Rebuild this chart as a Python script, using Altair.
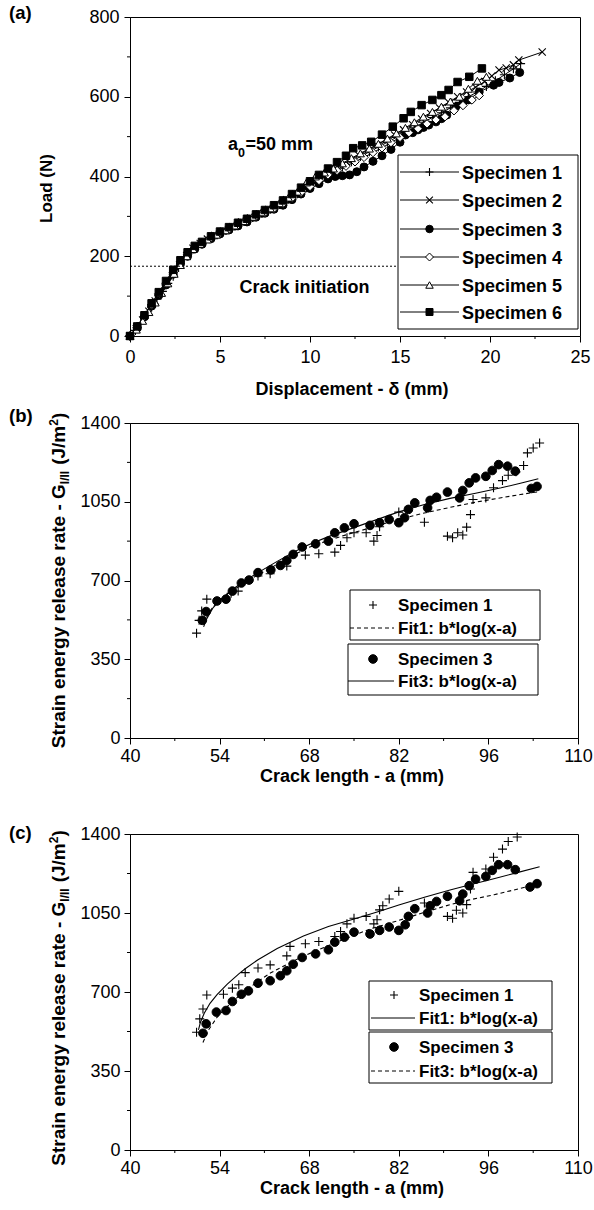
import altair as alt
import pandas as pd

FONT = "Liberation Sans"

# ---------------- panel (a): load vs displacement ----------------
s1_x = [0, 0.3, 0.6, 0.9, 1.2, 1.5, 1.8, 2.1, 2.4, 2.7, 3.0, 3.3, 3.6, 4.0, 4.4, 4.8, 5.3, 5.8, 6.3, 6.8,
        7.3, 7.8, 8.3, 8.8, 9.3, 9.8, 10.3, 10.8, 11.3, 11.8, 12.3, 12.8, 13.3, 13.8, 14.3, 14.8, 15.3, 15.8,
        16.3, 16.8, 17.3, 17.8, 18.3, 18.8, 19.3, 19.8, 20.3, 20.8, 21.3, 21.7]
s1_y = [0, 14, 34, 52, 72, 92, 112, 132, 150, 172, 192, 208, 222, 234, 244, 254, 265, 276, 288, 297,
        308, 318, 330, 343, 357, 372, 386, 400, 412, 425, 437, 450, 462, 474, 486, 498, 510, 522,
        536, 548, 560, 572, 586, 600, 612, 626, 640, 655, 670, 683]

s2_x = [0, 0.35, 0.7, 1.05, 1.4, 1.75, 2.1, 2.45, 2.8, 3.15, 3.5, 3.9, 4.3, 4.7, 5.2, 5.7, 6.2, 6.7, 7.2, 7.7,
        8.2, 8.7, 9.2, 9.7, 10.2, 10.7, 11.2, 11.7, 12.2, 12.7, 13.2, 13.7, 14.2, 14.7, 15.2, 15.7, 16.2, 16.7,
        17.2, 17.7, 18.2, 18.7, 19.2, 19.7, 20.1, 20.5, 20.9, 21.3, 21.6, 22.9]
s2_y = [0, 18, 40, 62, 88, 110, 134, 158, 180, 202, 220, 232, 243, 252, 263, 274, 286, 296, 306, 317,
        328, 342, 356, 372, 388, 403, 416, 428, 441, 454, 466, 479, 491, 504, 517, 530, 544, 558,
        572, 586, 600, 612, 624, 638, 652, 667, 672, 680, 692, 712]

s3_x = [0, 0.4, 0.8, 1.2, 1.6, 2.0, 2.4, 2.8, 3.2, 3.6, 4.0, 4.5, 5.0, 5.5, 6.0, 6.5, 7.0, 7.5, 8.0, 8.5,
        9.0, 9.5, 10.0, 10.5, 11.0, 11.4, 11.8, 12.2, 12.6, 13.0, 13.5, 14.0, 14.5, 15.0, 15.3, 15.7, 16.0, 16.3,
        16.6, 17.0, 17.3, 17.6, 18.1, 18.5, 18.8, 19.4, 20.2, 20.5, 21.1, 21.65]
s3_y = [0, 20, 48, 75, 102, 128, 155, 180, 200, 218, 230, 244, 256, 266, 276, 286, 298, 308, 318, 328,
        342, 356, 370, 382, 394, 400, 402, 404, 412, 424, 438, 452, 468, 486, 504, 510, 517, 523,
        529, 537, 545, 554, 575, 584, 592, 612, 629, 636, 647, 661]

s4_x = [0, 0.4, 0.8, 1.2, 1.6, 2.0, 2.4, 2.8, 3.2, 3.6, 4.0, 4.5, 5.0, 5.5, 6.0, 6.5, 7.0, 7.5, 8.0, 8.5,
        9.0, 9.5, 10.0, 10.5, 11.0, 11.5, 12.0, 12.5, 13.0, 13.5, 14.0, 14.5, 15.0, 15.5, 16.0, 16.5, 17.0, 17.5,
        18.0, 18.5, 19.0, 19.4]
s4_y = [0, 22, 50, 78, 106, 132, 160, 186, 205, 222, 233, 246, 258, 268, 279, 289, 300, 310, 320, 332,
        346, 360, 375, 390, 404, 415, 426, 437, 448, 460, 472, 485, 498, 510, 520, 532, 542, 550,
        565, 578, 592, 603]

s5_x = [0, 0.35, 0.7, 1.05, 1.4, 1.75, 2.1, 2.45, 2.8, 3.15, 3.5, 3.9, 4.3, 4.8, 5.3, 5.8, 6.3, 6.8, 7.3, 7.8,
        8.3, 8.8, 9.3, 9.8, 10.3, 10.8, 11.3, 11.8, 12.3, 12.8, 13.3, 13.8, 14.3, 14.8, 15.3, 15.8, 16.3, 16.8,
        17.3, 17.8, 18.3, 18.8, 19.3, 19.8]
s5_y = [0, 16, 38, 60, 84, 108, 132, 156, 178, 200, 218, 231, 242, 254, 265, 277, 288, 299, 310, 320,
        333, 347, 362, 385, 400, 410, 420, 433, 446, 458, 470, 482, 495, 508, 522, 536, 550, 562,
        575, 588, 600, 620, 640, 650]

s6_x = [0, 0.4, 0.8, 1.2, 1.6, 2.0, 2.4, 2.8, 3.2, 3.6, 4.0, 4.5, 5.0, 5.5, 6.0, 6.5, 7.0, 7.5, 8.0, 8.5,
        9.0, 9.5, 10.0, 10.5, 11.0, 11.5, 12.0, 12.4, 12.9, 13.4, 14.0, 14.6, 15.2, 15.6, 16.2, 16.8, 17.3, 17.7,
        18.2, 18.85, 19.55]
s6_y = [0, 24, 52, 82, 110, 138, 166, 190, 210, 226, 236, 250, 262, 273, 284, 294, 305, 316, 328, 340,
        356, 372, 388, 404, 420, 436, 452, 471, 478, 487, 505, 525, 546, 562, 579, 592, 604, 617,
        637, 650, 671]

crack_init_load = [175]
a_xticks = [0, 5, 10, 15, 20, 25]
a_xminor = [2.5, 7.5, 12.5, 17.5, 22.5]
a_yticks = [0, 200, 400, 600, 800]
a_yminor = [100, 300, 500, 700]
a_names = ["Specimen 1", "Specimen 2", "Specimen 3", "Specimen 4", "Specimen 5", "Specimen 6"]

# ---------------- panel (b) ----------------
b_s1_x = [50.4, 50.8, 51.2, 52.0, 55.8, 56.9, 60.0, 61.9, 64.5, 67.4, 69.5, 72.0, 72.9, 73.9, 75.0, 76.9,
          78.1, 78.6, 79.0, 82.0, 86.0, 89.6, 90.4, 91.2, 92.0, 92.6, 93.2, 93.6, 95.6, 96.8, 98.2, 99.1,
          100.3, 101.5, 102.1, 103.0, 104.0]
b_s1_y = [466, 523, 565, 617, 643, 653, 720, 730, 764, 813, 819, 826, 856, 890, 912, 912,
          875, 900, 939, 1004, 959, 897, 890, 912, 902, 937, 993, 1060, 1067, 1112, 1144, 1168,
          1183, 1211, 1267, 1289, 1311]
b_s3_x = [51.3, 51.9, 53.6, 55.0, 56.0, 57.4, 58.6, 60.0, 62.0, 63.5, 64.5, 65.5, 66.9, 69.0, 71.0, 72.0,
          73.5, 75.0, 77.5, 79.0, 80.5, 82.0, 82.9, 83.5, 84.5, 86.5, 86.9, 87.9, 89.6, 91.5, 92.0, 93.0,
          94.0, 95.6, 96.6, 97.6, 99.0, 100.2, 102.7, 103.6]
b_s3_y = [523, 562, 609, 617, 653, 689, 702, 735, 747, 767, 789, 816, 849, 863, 875, 912,
          934, 952, 945, 957, 971, 957, 979, 1016, 1045, 1023, 1056, 1070, 1093, 1067, 1100, 1134,
          1156, 1163, 1189, 1215, 1208, 1186, 1109, 1118]
b_fit1_x = [51.6, 52.0, 53.0, 54.0, 56.0, 58.0, 60.0, 63.0, 66.0, 68.0, 71.0, 74.0, 78.0, 82.0, 86.0,
            90.0, 94.0, 98.0, 101.0, 103.9]
b_fit1_y = [506, 538, 585, 612, 655, 692, 725, 772, 820, 848, 878, 905, 938, 972, 1000,
            1025, 1048, 1068, 1082, 1095]
b_fit3_x = [51.5, 52.0, 53.0, 54.0, 56.0, 58.0, 60.0, 63.0, 66.0, 68.0, 71.0, 74.0, 78.0, 82.0, 86.0,
            90.0, 94.0, 98.0, 101.0, 103.8]
b_fit3_y = [494, 530, 580, 610, 660, 700, 735, 785, 832, 860, 895, 925, 965, 1005, 1038,
            1065, 1088, 1112, 1132, 1152]

# ---------------- panel (c) ----------------
c_s1_x = [50.4, 50.9, 51.4, 52.0, 54.6, 56.0, 57.0, 58.0, 60.0, 61.9, 64.5, 65.0, 67.4, 69.5, 72.0, 72.9,
          73.9, 75.0, 76.9, 78.1, 78.6, 79.0, 79.5, 80.5, 82.0, 86.0, 89.6, 90.4, 91.0, 92.0, 92.6, 93.2,
          93.6, 95.6, 96.8, 98.2, 99.1, 100.5]
c_s1_y = [522, 581, 625, 687, 690, 717, 732, 786, 806, 820, 860, 902, 914, 924, 946, 968,
          1002, 1027, 1035, 1002, 1020, 1064, 1082, 1112, 1146, 1094, 1035, 1027, 1062, 1050, 1087, 1156,
          1230, 1245, 1297, 1333, 1367, 1387]
c_s3_x = [51.4, 51.9, 53.5, 55.0, 56.0, 57.4, 58.5, 60.0, 61.9, 63.5, 64.5, 65.5, 66.9, 69.0, 71.0, 72.0,
          73.5, 75.0, 77.5, 79.0, 80.5, 82.0, 83.0, 83.5, 84.5, 86.5, 86.9, 87.9, 89.6, 91.5, 92.0, 93.0,
          94.0, 95.6, 96.6, 97.6, 99.0, 100.2, 102.5, 103.6]
c_s3_y = [517, 559, 611, 618, 658, 690, 705, 739, 750, 772, 794, 823, 853, 869, 887, 921,
          943, 965, 957, 973, 988, 973, 998, 1035, 1069, 1050, 1082, 1101, 1124, 1104, 1134, 1171,
          1200, 1212, 1239, 1264, 1264, 1242, 1165, 1180]
c_fit1_x = [50.7, 51.0, 51.6, 52.5, 53.6, 55.2, 57.0, 58.0, 60.0, 63.0, 67.1, 71.0, 75.4, 79.0, 82.0,
            86.0, 90.0, 93.3, 97.0, 100.5, 104.0]
c_fit1_y = [532, 565, 606, 650, 688, 735, 780, 803, 843, 893, 948, 990, 1027, 1058, 1085,
            1120, 1152, 1176, 1203, 1229, 1255]
c_fit3_x = [51.4, 52.2, 53.6, 55.0, 56.0, 58.0, 60.0, 62.0, 64.7, 67.0, 70.7, 74.0, 77.5, 82.0, 86.0,
            90.0, 93.0, 96.9, 100.0, 104.0]
c_fit3_y = [476, 529, 588, 630, 658, 705, 747, 785, 825, 858, 902, 940, 979, 1017, 1053,
            1087, 1108, 1131, 1152, 1180]

g_xticks = [40, 54, 68, 82, 96, 110]
g_xminor = [47, 61, 75, 89, 103]
g_yticks = [0, 350, 700, 1050, 1400]
g_yminor = [175, 525, 875, 1225]

# ---------------- helpers ----------------
ONE = pd.DataFrame({"k": [0]})
PLUS = "M-1,0L1,0M0,-1L0,1"
CROSS = "M-0.85,-0.85L0.85,0.85M-0.85,0.85L0.85,-0.85"

AW = {' ': 278, '(': 333, ')': 333, '-': 333, '/': 278, '*': 389, ':': 333, '=': 584,
      'G': 778, 'I': 278, 'J': 556, 'L': 611, 'N': 722, 'S': 667, 'C': 722, 'D': 722, 'F': 611,
      'a': 556, 'b': 611, 'c': 556, 'd': 611, 'e': 556, 'g': 611, 'h': 611, 'i': 278, 'k': 556,
      'l': 278, 'm': 889, 'n': 611, 'o': 611, 'p': 611, 'r': 389, 's': 556, 't': 333, 'x': 556, 'y': 556}


def tw(s, fs):
    return sum(AW.get(ch, 556) for ch in s) / 1000.0 * fs


def T(s, x, y, fs=18, bold=True, align="left", angle=None):
    kw = dict(text=s, font=FONT, fontSize=fs, fontWeight="bold" if bold else "normal",
              align=align, baseline="alphabetic", color="black")
    if angle is not None:
        kw["angle"] = angle
    return alt.Chart(ONE).mark_text(**kw).encode(x=alt.value(x), y=alt.value(y))


def R(x1, x2, y1, y2=None, dash=None, w=1.0, opacity=1.0):
    kw = dict(color="black", strokeWidth=w, strokeOpacity=opacity)
    if dash:
        kw["strokeDash"] = dash
    enc = dict(x=alt.value(x1), x2=alt.value(x2), y=alt.value(y1))
    if y2 is not None:
        enc["y2"] = alt.value(y2)
    return alt.Chart(ONE).mark_rule(**kw).encode(**enc)


def BOX(x1, x2, y1, y2):
    return alt.Chart(ONE).mark_rect(fill="white", stroke="black", strokeWidth=1).encode(
        x=alt.value(x1), x2=alt.value(x2), y=alt.value(y1), y2=alt.value(y2))


def PT(x, y, shape, size, style):
    return alt.Chart(ONE).mark_point(shape=shape, size=size, opacity=1, **style).encode(
        x=alt.value(x), y=alt.value(y))


ST_FILLED = dict(filled=True, fill="black", stroke="black", strokeWidth=1)
ST_OPEN = dict(filled=True, fill="white", stroke="black", strokeWidth=1)
ST_STROKE = dict(filled=False, color="black", strokeWidth=1.1)


def axes(xdom, ydom, xt, yt, lpad_x, lpad_y):
    sx = alt.Scale(domain=xdom, nice=False, zero=False)
    sy = alt.Scale(domain=ydom, nice=False, zero=False)
    ax = alt.Axis(values=xt, title=None, format="d", tickSize=6, labelPadding=lpad_x)
    ay = alt.Axis(values=yt, title=None, format="d", tickSize=6, labelPadding=lpad_y)
    return sx, sy, ax, ay


def minor(xm, ym, sx, sy, ax, ay, h):
    dx = pd.DataFrame({"x": xm})
    dy = pd.DataFrame({"y": ym})
    rx = alt.Chart(dx).mark_rule(color="black", strokeWidth=1).encode(
        x=alt.X("x:Q", scale=sx, axis=ax), y=alt.value(h), y2=alt.value(h + 3))
    ry = alt.Chart(dy).mark_rule(color="black", strokeWidth=1).encode(
        y=alt.Y("y:Q", scale=sy, axis=ay), x=alt.value(-3), x2=alt.value(0))
    return [rx, ry]


# ---------------- panel (a) ----------------
WA, HA = 450, 319
sxa, sya, axa, aya = axes([0, 25], [0, 800], a_xticks, a_yticks, 6, 5)

specs = [
    (s1_x, s1_y, PLUS, 81, ST_STROKE, 64),
    (s2_x, s2_y, CROSS, 72, ST_STROKE, 64),
    (s3_x, s3_y, "circle", 64, ST_FILLED, 56),
    (s4_x, s4_y, "diamond", 72, ST_OPEN, 64),
    (s5_x, s5_y, "triangle-up", 64, ST_OPEN, 56),
    (s6_x, s6_y, "square", 56, ST_FILLED, 49),
]
layers_a = []
for xs, ys, shp, sz, st, lsz in specs:
    base = alt.Chart(pd.DataFrame({"x": xs, "y": ys})).encode(
        x=alt.X("x:Q", scale=sxa, axis=axa), y=alt.Y("y:Q", scale=sya, axis=aya))
    layers_a.append(base.mark_line(color="black", strokeWidth=1))
    layers_a.append(base.mark_point(shape=shp, size=sz, opacity=1, **st))

layers_a += minor(a_xminor, a_yminor, sxa, sya, axa, aya, HA)

# crack initiation dotted line (data value), ending at legend box
layers_a.append(
    alt.Chart(pd.DataFrame({"y": crack_init_load})).mark_rule(color="black", strokeWidth=1, strokeDash=[2, 2])
    .encode(y=alt.Y("y:Q", scale=sya, axis=aya), x=alt.value(0), x2=alt.value(268)))

# legend (a)
layers_a.append(BOX(268, 448, 138, 312))
rows_a = [155, 183, 212, 240, 268, 295]
for (xs, ys, shp, sz, st, lsz), name, ry in zip(specs, a_names, rows_a):
    layers_a.append(R(270, 329, ry))
    layers_a.append(PT(299.5, ry, shp, lsz, st))
    layers_a.append(T(name, 332, ry + 6.5, fs=18))

# annotations (a)
layers_a.append(T("Crack initiation", 174.5, 276, fs=18, align="center"))
ax0 = 98
layers_a.append(T("a", ax0, 133, fs=18))
layers_a.append(T("0", ax0 + tw("a", 18), 140, fs=12.5))
layers_a.append(T("=50 mm", ax0 + tw("a", 18) + tw("0", 12.5) + 0.5, 133, fs=18))

# titles (a)
layers_a.append(T("Load (N)", -78, HA / 2 + 12, fs=17, align="center", angle=270))
layers_a.append(T("Displacement - \u03b4 (mm)", 222, 378, fs=18, align="center"))
layers_a.append(T("(a)", -121, 2, fs=18.5))

chart_a = alt.layer(*layers_a).properties(width=WA, height=HA)


# ---------------- panels (b), (c) ----------------
def g_panel(label, H, s1x, s1y, s3x, s3y, f1x, f1y, f3x, f3y, f1dash, f3dash,
            box1, box2, rows, sym_x, txt_x, line_x, label_y, xtitle_y, title_off, extra_bottom=None):
    W = 448
    sx, sy, ax, ay = axes([40, 110], [0, 1400], g_xticks, g_yticks, 3, 4)
    L = []

    def enc(df):
        return alt.Chart(df).encode(x=alt.X("x:Q", scale=sx, axis=ax), y=alt.Y("y:Q", scale=sy, axis=ay))

    def fitline(xs, ys, dash):
        kw = dict(color="black", strokeWidth=1.1)
        if dash:
            kw["strokeDash"] = dash
        return enc(pd.DataFrame({"x": xs, "y": ys})).mark_line(**kw)

    L.append(fitline(f1x, f1y, f1dash))
    L.append(fitline(f3x, f3y, f3dash))
    L.append(enc(pd.DataFrame({"x": s1x, "y": s1y})).mark_point(shape=PLUS, size=81, opacity=1, **ST_STROKE))
    L.append(enc(pd.DataFrame({"x": s3x, "y": s3y})).mark_point(shape="circle", size=75, opacity=1, **ST_FILLED))
    L += minor(g_xminor, g_yminor, sx, sy, ax, ay, H)

    # legend
    L.append(BOX(*box1))
    L.append(BOX(*box2))
    r1, r2, r3, r4 = rows
    L.append(PT(sym_x, r1, PLUS, 64, ST_STROKE))
    L.append(T("Specimen 1", txt_x, r1 + 6, fs=17))
    kw1 = dict(dash=f1dash) if f1dash else {}
    L.append(R(line_x[0], line_x[1], r2, **kw1))
    L.append(T("Fit1: b*log(x-a)", txt_x, r2 + 6, fs=17))
    L.append(PT(sym_x, r3, "circle", 75, ST_FILLED))
    L.append(T("Specimen 3", txt_x, r3 + 6, fs=17))
    kw3 = dict(dash=f3dash) if f3dash else {}
    L.append(R(line_x[2], line_x[3], r4, **kw3))
    L.append(T("Fit3: b*log(x-a)", txt_x, r4 + 6, fs=17))

    # y title in pieces (subscript / superscript)
    fs, sfs, gap = 19, 12, 6
    p1, p2, p3, p4, p5 = "Strain energy release rate - G", "I/II", "(J/m", "2", ")"
    tot = tw(p1, fs) + tw(p2, sfs) + gap + tw(p3, fs) + tw(p4, sfs) + tw(p5, fs)
    y = H / 2 + tot / 2 + title_off
    bx = -65
    L.append(T(p1, bx, y, fs=fs, angle=270))
    y -= tw(p1, fs)
    L.append(T(p2, bx + 4, y, fs=sfs, angle=270))
    y -= tw(p2, sfs) + gap
    L.append(T(p3, bx, y, fs=fs, angle=270))
    y -= tw(p3, fs)
    L.append(T(p4, bx - 7, y, fs=sfs, angle=270))
    y -= tw(p4, sfs)
    L.append(T(p5, bx, y, fs=fs, angle=270))

    L.append(T("Crack length - a (mm)", 222, xtitle_y, fs=18, align="center"))
    L.append(T(label, -121, label_y, fs=18.5))
    if extra_bottom is not None:
        L.append(R(0, 1, extra_bottom - 2, extra_bottom, opacity=0))
    return alt.layer(*L).properties(width=W, height=H)


chart_b = g_panel("(b)", 315, b_s1_x, b_s1_y, b_s3_x, b_s3_y, b_fit1_x, b_fit1_y, b_fit3_x, b_fit3_y,
                  [4, 3], None,
                  (220, 410, 167, 217), (218, 408, 221, 272), [182, 205, 236, 258],
                  243, 268, (220, 264, 218, 264), -1.5, 359, 0, extra_bottom=393)
chart_c = g_panel("(c)", 316, c_s1_x, c_s1_y, c_s3_x, c_s3_y, c_fit1_x, c_fit1_y, c_fit3_x, c_fit3_y,
                  None, [4, 3],
                  (239, 422, 147, 196), (239, 422, 198, 249), [161, 184, 213, 237],
                  264, 289, (241, 285, 241, 285), 4.5, 360, 6)

chart = alt.vconcat(chart_a, chart_b, chart_c, spacing=6).properties(
    padding={"left": 8, "top": 3, "right": 0, "bottom": 0}, background="white"
).configure_view(stroke="black", strokeWidth=1).configure_axis(
    grid=False, labelFont=FONT, labelFontSize=18, labelColor="black", domainColor="black",
    tickColor="black", labelFlush=False, labelOverlap=False, domainWidth=1, tickWidth=1
)

chart.save("out.html", embed_options={"renderer": "svg", "actions": False})
